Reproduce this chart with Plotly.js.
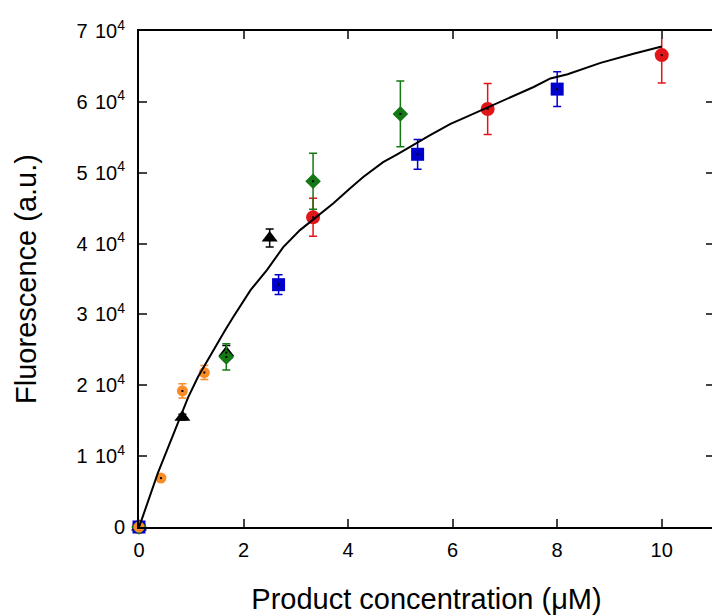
<!DOCTYPE html>
<html>
<head>
<meta charset="utf-8">
<script src="https://cdn.plot.ly/plotly-3.0.1.min.js"></script>
<style>
html,body{margin:0;padding:0;overflow:hidden;background:#fff;}
#chart{width:714px;height:615px;}
</style>
</head>
<body>
<div id="chart"></div>
<script>
// Series: product concentration (µM), fluorescence (a.u.), error
var orangeX = [0, 0.42, 0.83, 1.25];
var orangeY = [0, 6900, 19200, 21800];
var orangeE = [0, 0, 1000, 1000];

var blackX = [0, 0.83, 1.67, 2.5];
var blackY = [0, 15500, 24600, 40800];
var blackE = [0, 400, 1000, 1270];

var greenX = [0, 1.67, 3.33, 5.0];
var greenY = [0, 24000, 48800, 58300];
var greenE = [0, 1850, 3950, 4650];

var blueX = [0, 2.67, 5.33, 8.0];
var blueY = [0, 34200, 52600, 61800];
var blueE = [0, 1400, 2100, 2450];

var redX = [0, 3.33, 6.67, 10.0];
var redY = [0, 43700, 59000, 66600];
var redE = [0, 2680, 3600, 3950];

// Fitted curve
var fitX = [0, 0.05, 0.36, 0.54, 0.75, 0.94, 1.13, 1.42, 1.65, 1.80, 2.13, 2.45, 2.76, 3.08, 3.41, 3.72, 4.04, 4.29, 4.67, 4.94, 5.57, 5.96, 6.21, 6.86, 7.55, 7.87, 8.20, 8.83, 9.46, 10.0];
var fitY = [0, 1000, 7600, 10900, 14700, 18300, 21200, 25000, 27800, 29600, 33400, 36300, 39500, 41900, 43800, 45700, 47800, 49400, 51500, 52600, 55300, 56900, 57700, 59800, 62100, 63300, 63900, 65500, 66800, 67800];

var yTickVals = [0, 10000, 20000, 30000, 40000, 50000, 60000, 70000];
var yTickText = ['0', '1\u00a0\u200a10<sup>4</sup>', '2\u00a0\u200a10<sup>4</sup>', '3\u00a0\u200a10<sup>4</sup>', '4\u00a0\u200a10<sup>4</sup>', '5\u00a0\u200a10<sup>4</sup>', '6\u00a0\u200a10<sup>4</sup>', '7\u00a0\u200a10<sup>4</sup>'];
var xTickVals = [0, 2, 4, 6, 8, 10];

function series(x, y, e, color, symbol, size) {
  return {
    x: x, y: y, type: 'scatter', mode: 'markers', cliponaxis: false,
    marker: {color: color, symbol: symbol, size: size, line: {width: 0}},
    error_y: {type: 'data', array: e, visible: true, color: color, thickness: 1.5, width: 4},
    hoverinfo: 'skip', showlegend: false
  };
}

var traces = [
  series(redX, redY, redE, 'rgb(226,22,26)', 'circle', 14),
  series(blackX, blackY, blackE, '#000000', 'triangle-up', 14),
  series(blueX, blueY, blueE, 'rgb(0,0,205)', 'square', 13),
  series(greenX, greenY, greenE, 'rgb(20,120,20)', 'diamond', 12),
  series(orangeX, orangeY, orangeE, 'rgb(250,140,40)', 'circle', 11),
  {
    x: fitX, y: fitY, type: 'scatter', mode: 'lines',
    line: {color: '#000', width: 2}, hoverinfo: 'skip', showlegend: false
  },
  {
    x: [].concat(orangeX, blackX, greenX, blueX, redX),
    y: [].concat(orangeY, blackY, greenY, blueY, redY),
    type: 'scatter', mode: 'markers',
    marker: {color: '#000', symbol: 'square', size: 2},
    hoverinfo: 'skip', showlegend: false
  }
];

var font = 'Liberation Sans, Arial, sans-serif';
var layout = {
  width: 714, height: 615,
  margin: {l: 139, r: 0, t: 31, b: 88},
  paper_bgcolor: '#fff', plot_bgcolor: '#fff',
  font: {family: font, color: '#000', size: 20},
  xaxis: {
    range: [0, 11], tickvals: xTickVals, ticks: 'inside', ticklen: 8, tickwidth: 2,
    showline: true, linewidth: 2, linecolor: '#000', mirror: 'ticks',
    showgrid: false, zeroline: false, tickfont: {size: 20, family: font},
    ticklabelstandoff: 4,
    title: {text: 'Product concentration (\u03bcM)', font: {size: 29, family: font}, standoff: 29}
  },
  yaxis: {
    range: [0, 70000], tickvals: yTickVals, ticktext: yTickText, ticks: 'inside', ticklen: 8, tickwidth: 2,
    showline: true, linewidth: 2, linecolor: '#000', mirror: 'ticks',
    showgrid: false, zeroline: false, tickfont: {size: 20, family: font},
    ticklabelstandoff: 8,
    title: {text: 'Fluorescence (a.u.)', font: {size: 29, family: font}, standoff: 31}
  }
};

Plotly.newPlot('chart', traces, layout, {staticPlot: true, displayModeBar: false});
</script>
</body>
</html>
